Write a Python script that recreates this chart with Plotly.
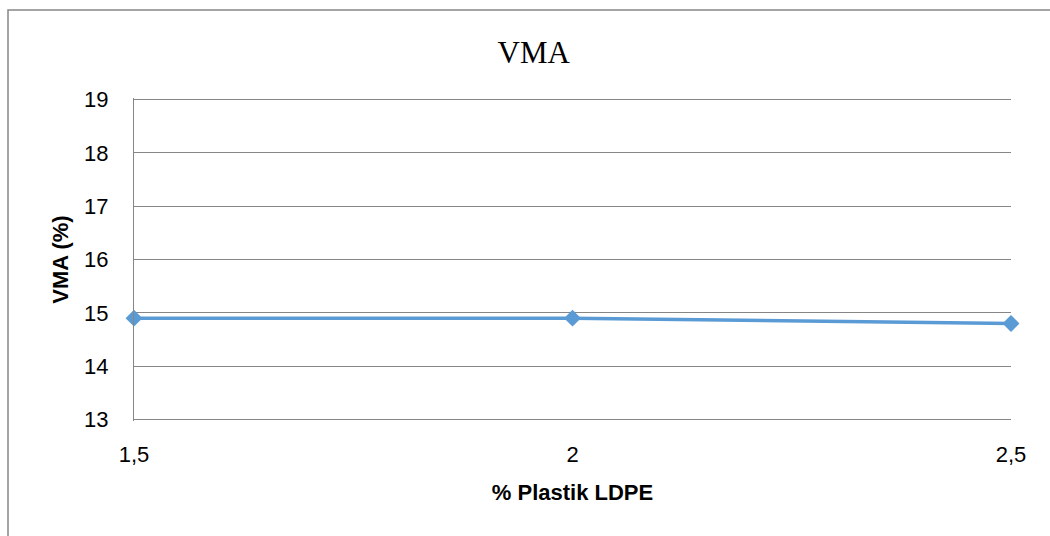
import plotly.graph_objects as go

x_vals = [1.5, 2.0, 2.5]
x_labels = ["1,5", "2", "2,5"]
vma = [14.9, 14.9, 14.8]
y_ticks = [13, 14, 15, 16, 17, 18, 19]

fig = go.Figure()
fig.add_trace(go.Scatter(
    x=x_vals, y=vma, mode="lines+markers",
    line=dict(color="#5B9BD5", width=3.5),
    marker=dict(symbol="diamond", size=13, color="#5B9BD5"),
    cliponaxis=False, showlegend=False,
))

tick_font = dict(family="Liberation Sans", size=22, color="#000000")
fig.update_layout(
    width=1050, height=536,
    margin=dict(l=134, r=39, t=98, b=115),
    paper_bgcolor="white", plot_bgcolor="white",
    title=dict(text="VMA", x=0.5083, xanchor="center", y=0.903, yanchor="middle",
               font=dict(family="Liberation Serif", size=31, color="#000000")),
    xaxis=dict(range=[1.5, 2.5], tickvals=x_vals, ticktext=x_labels,
               showgrid=False, zeroline=False, showline=False,
               ticks="", tickfont=tick_font, ticklabelstandoff=18,
               title=dict(text="<b>% Plastik LDPE</b>", standoff=18,
                          font=dict(family="Liberation Sans", size=22, color="#000000"))),
    yaxis=dict(range=[12.97, 19.03], tickvals=y_ticks,
               showgrid=True, gridcolor="#868686", gridwidth=1,
               zeroline=False, showline=True, linecolor="#868686", linewidth=1,
               ticks="", tickfont=tick_font, ticklabelstandoff=20,
               title=dict(text="<b>VMA (%)</b>", standoff=9,
                          font=dict(family="Liberation Sans", size=22, color="#000000"))),
    shapes=[dict(type="rect", xref="paper", yref="paper",
                 x0=-126/877, x1=1.2, y0=-2.0, y1=1 + 88/323,
                 line=dict(color="#868686", width=1.5), layer="below")],
)
fig.write_html("out.html")
